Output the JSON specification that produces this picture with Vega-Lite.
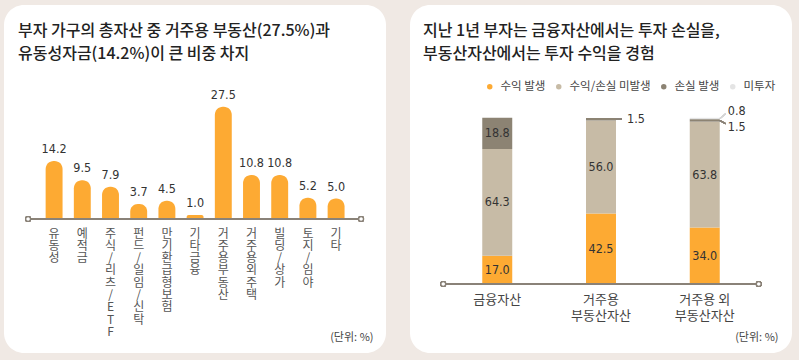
{
  "$schema": "https://vega.github.io/schema/vega-lite/v6.json",
  "background": "#f0e9e4",
  "padding": {"left": 4, "top": 5, "right": 7, "bottom": 7},
  "spacing": 24,
  "resolve": {"legend": {"color": "independent"}, "scale": {"color": "independent"}},
  "config": {
    "view": {"fill": "white", "stroke": null, "cornerRadius": 20},
    "font": "Noto Sans CJK KR",
    "title": {"anchor": "start", "frame": "group", "orient": "top", "fontSize": 16, "fontWeight": 500, "color": "#222222", "lineHeight": 23, "offset": -57, "dx": 14}
  },
  "hconcat": [
    {
      "width": 382,
      "height": 348,
      "title": {"text": ["부자 가구의 총자산 중 거주용 부동산(27.5%)과", "유동성자금(14.2%)이 큰 비중 차지"]},
      "data": {"values": [
        {"item": "유동성", "value": 14.2},
        {"item": "예적금", "value": 9.5},
        {"item": "주식/리츠/ETF", "value": 7.9},
        {"item": "펀드/일임/신탁", "value": 3.7},
        {"item": "만기환급형 보험", "value": 4.5},
        {"item": "기타금융", "value": 1.0},
        {"item": "거주용 부동산", "value": 27.5},
        {"item": "거주용 외 주택", "value": 10.8},
        {"item": "빌딩/상가", "value": 10.8},
        {"item": "토지/임야", "value": 5.2},
        {"item": "기타", "value": 5.0}
      ]},
      "encoding": {
        "x": {"field": "item", "type": "nominal", "sort": null,
          "scale": {"paddingInner": 0.4, "paddingOuter": 0.2, "range": [36, 346.2]},
          "axis": {"orient": "bottom", "offset": -134, "domain": false, "ticks": false, "labelAngle": 0, "labelAlign": "center", "labelBaseline": "top", "labelPadding": 9, "labelFontSize": 12, "labelLineHeight": 12.3, "labelColor": "#555555", "labelExpr": "split(datum.label, '')", "labelOverlap": false, "labelBound": false, "labelFlush": false,
            "title": "(단위: %)", "titleX": 369, "titleY": 118, "titleAlign": "right", "titleBaseline": "middle", "titleFontSize": 11, "titleFontWeight": "normal", "titleColor": "#444444"}},
        "y": {"field": "value", "type": "quantitative", "scale": {"domain": [-32.84, 52.45], "nice": false, "zero": false}, "axis": null}
      },
      "layer": [
        {"mark": {"type": "bar", "color": "#FDAA33", "cornerRadiusTopLeft": 8, "cornerRadiusTopRight": 8},
         "encoding": {"y2": {"datum": 0}}},
        {"mark": {"type": "text", "baseline": "bottom", "dy": -5, "fontSize": 12.5, "color": "#333333", "font": "DejaVu Sans Condensed, Roboto, sans-serif"},
         "encoding": {"text": {"field": "value", "type": "quantitative", "format": ".1f"}}},
        {"mark": {"type": "rule", "color": "#8a8278", "strokeWidth": 1.5, "xOffset": -26, "x2Offset": 25},
         "encoding": {"x": {"datum": "유동성"}, "x2": {"datum": "기타"}, "y": {"datum": 0}}},
        {"mark": {"type": "point", "shape": "circle", "filled": true, "fill": "white", "stroke": "#8a8278", "strokeWidth": 1.3, "size": 22, "opacity": 1, "xOffset": -26},
         "encoding": {"x": {"datum": "유동성"}, "y": {"datum": 0}}},
        {"mark": {"type": "point", "shape": "circle", "filled": true, "fill": "white", "stroke": "#8a8278", "strokeWidth": 1.3, "size": 22, "opacity": 1, "xOffset": 25},
         "encoding": {"x": {"datum": "기타"}, "y": {"datum": 0}}}
      ]
    },
    {
      "width": 382,
      "height": 348,
      "title": {"text": ["지난 1년 부자는 금융자산에서는 투자 손실을,", "부동산자산에서는 투자 수익을 경험"], "dx": 13},
      "data": {"values": [
        {"asset": "금융자산", "type": "수익 발생", "value": 17.0},
        {"asset": "금융자산", "type": "수익/손실 미발생", "value": 64.3},
        {"asset": "금융자산", "type": "손실 발생", "value": 18.8},
        {"asset": "거주용 부동산자산", "type": "수익 발생", "value": 42.5},
        {"asset": "거주용 부동산자산", "type": "수익/손실 미발생", "value": 56.0},
        {"asset": "거주용 부동산자산", "type": "손실 발생", "value": 1.5},
        {"asset": "거주용 외 부동산자산", "type": "수익 발생", "value": 34.0},
        {"asset": "거주용 외 부동산자산", "type": "수익/손실 미발생", "value": 63.8},
        {"asset": "거주용 외 부동산자산", "type": "손실 발생", "value": 1.5},
        {"asset": "거주용 외 부동산자산", "type": "미투자", "value": 0.8}
      ]},
      "transform": [{"window": [{"op": "row_number", "as": "rank"}]}],
      "encoding": {
        "x": {"field": "asset", "type": "nominal", "sort": null,
          "scale": {"paddingInner": 0.711, "paddingOuter": 0.6965},
          "axis": {"orient": "bottom", "offset": -69, "domain": false, "ticks": false, "labelAngle": 0, "labelAlign": "center", "labelBaseline": "top", "labelPadding": 9, "labelFontSize": 13, "labelLineHeight": 16, "labelColor": "#444444", "labelOverlap": false, "labelBound": false, "labelFlush": false,
            "labelExpr": "indexof(datum.label, ' ') < 0 ? datum.label : [slice(datum.label, 0, lastindexof(datum.label, ' ')), slice(datum.label, lastindexof(datum.label, ' ') + 1)]",
            "title": "(단위: %)", "titleX": 368, "titleY": 53, "titleAlign": "right", "titleBaseline": "middle", "titleFontSize": 11, "titleFontWeight": "normal", "titleColor": "#444444"}}
      },
      "layer": [
        {"mark": {"type": "bar"},
         "encoding": {
           "y": {"field": "value", "type": "quantitative", "stack": "zero", "scale": {"domain": [-41.57, 168.07], "nice": false, "zero": false}, "axis": null},
           "order": {"field": "rank", "type": "quantitative", "sort": "ascending"},
           "color": {"field": "type", "type": "nominal",
             "scale": {"domain": ["수익 발생", "수익/손실 미발생", "손실 발생", "미투자"], "range": ["#FDAA33", "#C7BBA6", "#8C8373", "#E4E4E4"]},
             "legend": {"orient": "none", "legendX": 74, "legendY": 76, "direction": "horizontal", "columns": 4, "gridAlign": "none", "columnPadding": 7, "symbolType": "circle", "symbolSize": 30, "labelFontSize": 11.5, "labelColor": "#444444", "labelOffset": 5, "padding": 0, "title": null}}
         }},
        {"mark": {"type": "text", "fontSize": 12.5, "color": "#333333", "baseline": "middle", "font": "DejaVu Sans Condensed, Roboto, sans-serif"},
         "encoding": {
           "y": {"field": "value", "type": "quantitative", "stack": "zero", "bandPosition": 0.5},
           "order": {"field": "rank", "type": "quantitative", "sort": "ascending"},
           "detail": {"field": "type", "type": "nominal"},
           "text": {"condition": {"test": "datum.value < 5", "value": ""}, "field": "value", "type": "quantitative", "format": ".1f"}
         }},
        {"mark": {"type": "text", "fontSize": 12.5, "color": "#333333", "baseline": "middle", "align": "left", "dx": 11, "dy": 0, "font": "DejaVu Sans Condensed, Roboto, sans-serif"},
         "encoding": {
           "x": {"field": "asset", "type": "nominal", "sort": null, "bandPosition": 1},
           "y": {"field": "value", "type": "quantitative", "stack": "zero", "bandPosition": 0.5},
           "order": {"field": "rank", "type": "quantitative", "sort": "ascending"},
           "detail": {"field": "type", "type": "nominal"},
           "text": {"condition": {"test": "datum.asset == '거주용 부동산자산' && datum.type == '손실 발생'", "field": "value", "type": "quantitative", "format": ".1f"}, "value": ""}
         }},
        {"mark": {"type": "text", "fontSize": 12.5, "color": "#333333", "baseline": "middle", "align": "left", "dx": 8, "dy": -7, "font": "DejaVu Sans Condensed, Roboto, sans-serif"},
         "encoding": {
           "x": {"field": "asset", "type": "nominal", "sort": null, "bandPosition": 1},
           "y": {"field": "value", "type": "quantitative", "stack": "zero", "bandPosition": 0.5},
           "order": {"field": "rank", "type": "quantitative", "sort": "ascending"},
           "detail": {"field": "type", "type": "nominal"},
           "text": {"condition": {"test": "datum.asset == '거주용 외 부동산자산' && datum.type == '미투자'", "field": "value", "type": "quantitative", "format": ".1f"}, "value": ""}
         }},
        {"mark": {"type": "text", "fontSize": 12.5, "color": "#333333", "baseline": "middle", "align": "left", "dx": 8, "dy": 7, "font": "DejaVu Sans Condensed, Roboto, sans-serif"},
         "encoding": {
           "x": {"field": "asset", "type": "nominal", "sort": null, "bandPosition": 1},
           "y": {"field": "value", "type": "quantitative", "stack": "zero", "bandPosition": 0.5},
           "order": {"field": "rank", "type": "quantitative", "sort": "ascending"},
           "detail": {"field": "type", "type": "nominal"},
           "text": {"condition": {"test": "datum.asset == '거주용 외 부동산자산' && datum.type == '손실 발생'", "field": "value", "type": "quantitative", "format": ".1f"}, "value": ""}
         }},
        {"mark": {"type": "rule", "color": "#8a8278", "strokeWidth": 1.2, "xOffset": 15, "x2Offset": 21},
         "encoding": {"x": {"datum": "거주용 부동산자산"}, "x2": {"datum": "거주용 부동산자산"}, "y": {"datum": 99.25}, "y2": {"datum": 99.25}}},
        {"mark": {"type": "rule", "color": "#d6d6d6", "strokeWidth": 1.2, "xOffset": 15, "x2Offset": 21},
         "encoding": {"x": {"datum": "거주용 외 부동산자산"}, "x2": {"datum": "거주용 외 부동산자산"}, "y": {"datum": 99.6}, "y2": {"datum": 102.6}}},
        {"mark": {"type": "rule", "color": "#8a8278", "strokeWidth": 1.2, "xOffset": 15, "x2Offset": 21},
         "encoding": {"x": {"datum": "거주용 외 부동산자산"}, "x2": {"datum": "거주용 외 부동산자산"}, "y": {"datum": 98.55}, "y2": {"datum": 96.5}}},
        {"mark": {"type": "rule", "color": "#8a8278", "strokeWidth": 1.5, "xOffset": -54, "x2Offset": 54},
         "encoding": {"x": {"datum": "금융자산"}, "x2": {"datum": "거주용 외 부동산자산"}, "y": {"datum": 0}}},
        {"mark": {"type": "point", "shape": "circle", "filled": true, "fill": "white", "stroke": "#8a8278", "strokeWidth": 1.3, "size": 22, "opacity": 1, "xOffset": -54},
         "encoding": {"x": {"datum": "금융자산"}, "y": {"datum": 0}}},
        {"mark": {"type": "point", "shape": "circle", "filled": true, "fill": "white", "stroke": "#8a8278", "strokeWidth": 1.3, "size": 22, "opacity": 1, "xOffset": 54},
         "encoding": {"x": {"datum": "거주용 외 부동산자산"}, "y": {"datum": 0}}}
      ]
    }
  ]
}
